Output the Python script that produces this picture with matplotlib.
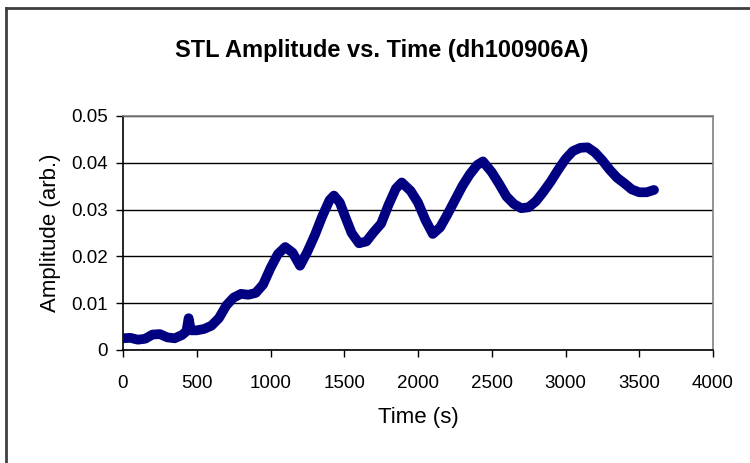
import matplotlib
matplotlib.use("Agg")
import matplotlib.pyplot as plt
from matplotlib.lines import Line2D

# values
time_s = [0, 50, 100, 150, 200, 250, 300, 350, 400, 430, 445, 460, 500, 550,
          600, 650, 700, 750, 800, 850, 900, 950, 1000, 1050, 1100, 1150,
          1200, 1250, 1300, 1350, 1400, 1430, 1470, 1500, 1550, 1600, 1650,
          1700, 1750, 1800, 1850, 1890, 1950, 2000, 2050, 2100, 2150, 2200,
          2250, 2300, 2350, 2400, 2440, 2500, 2550, 2600, 2650, 2700, 2750,
          2800, 2850, 2900, 2950, 3000, 3050, 3100, 3150, 3200, 3250, 3300,
          3350, 3400, 3450, 3500, 3550, 3600]
amplitude = [0.0025, 0.0026, 0.0022, 0.0024, 0.0033, 0.0034, 0.0027, 0.0025,
             0.0032, 0.0040, 0.0068, 0.0042, 0.0042, 0.0045, 0.0052, 0.0068,
             0.0095, 0.0112, 0.0120, 0.0118, 0.0122, 0.0140, 0.0175, 0.0205,
             0.0220, 0.0208, 0.0180, 0.0210, 0.0245, 0.0285, 0.0320, 0.0330,
             0.0315, 0.0290, 0.0250, 0.0228, 0.0232, 0.0252, 0.0270, 0.0310,
             0.0345, 0.0358, 0.0340, 0.0315, 0.0278, 0.0248, 0.0262, 0.0290,
             0.0320, 0.0350, 0.0375, 0.0395, 0.0403, 0.0380, 0.0355, 0.0328,
             0.0312, 0.0303, 0.0305, 0.0318, 0.0338, 0.0360, 0.0385, 0.0408,
             0.0425, 0.0432, 0.0433, 0.0422, 0.0405, 0.0385, 0.0368, 0.0356,
             0.0343, 0.0337, 0.0337, 0.0342]

x_ticks = [0, 500, 1000, 1500, 2000, 2500, 3000, 3500, 4000]
y_ticks = [0, 0.01, 0.02, 0.03, 0.04, 0.05]
y_tick_labels = ["0", "0.01", "0.02", "0.03", "0.04", "0.05"]

plt.rcParams['font.family'] = ['Liberation Sans', 'DejaVu Sans']

fig = plt.figure(figsize=(7.5, 4.63), dpi=100)
ax = fig.add_axes([123 / 750, 1 - 350 / 463, 590 / 750, 234 / 463])

ax.plot(time_s, amplitude, color="#000080", linewidth=7, solid_capstyle="round",
        solid_joinstyle="round", zorder=3)

ax.set_xlim(0, 4000)
ax.set_ylim(0, 0.05)
ax.set_xticks(x_ticks, [str(t) for t in x_ticks])
ax.set_yticks(y_ticks, y_tick_labels)
ax.tick_params(axis="both", labelsize=13.5, length=5, width=1, direction="out", color="black")
ax.tick_params(axis="x", pad=13)
ax.tick_params(axis="y", pad=6)

ax.grid(axis="y", color="black", linewidth=1)
ax.set_axisbelow(True)
ax.spines["top"].set_color("#808080")
ax.spines["right"].set_color("#808080")
for side in ["top", "right", "left", "bottom"]:
    ax.spines[side].set_linewidth(1.2)

ax.set_xlabel("Time (s)", fontsize=16, labelpad=11)
ax.set_ylabel("Amplitude (arb.)", fontsize=16, labelpad=7)
fig.text(382 / 750, 1 - 50 / 463, "STL Amplitude vs. Time (dh100906A)",
         fontsize=17, fontweight="bold", ha="center", va="center")

# outer chart frame (only left and top edges are inside the picture)
fig.add_artist(Line2D([6 / 750, 6 / 750], [0, 1 - 8 / 463], transform=fig.transFigure,
                      color="#404040", linewidth=2))
fig.add_artist(Line2D([6 / 750, 1], [1 - 8 / 463, 1 - 8 / 463], transform=fig.transFigure,
                      color="#404040", linewidth=2))

fig.savefig("out.png", dpi=100)
